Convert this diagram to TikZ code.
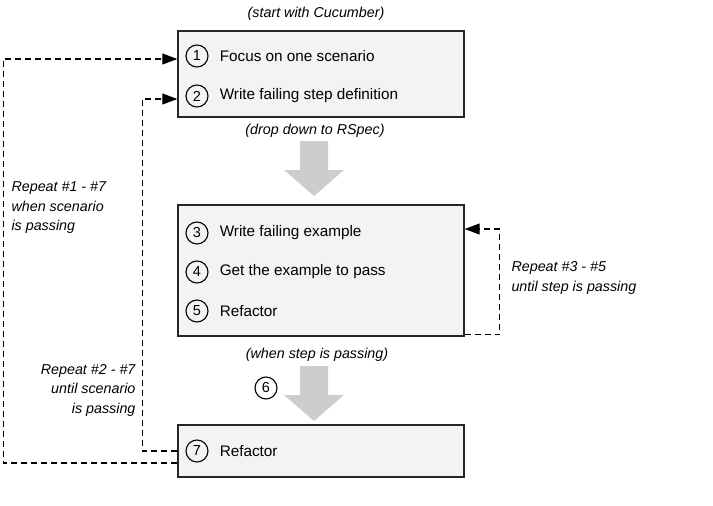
\documentclass[tikz,border=0pt]{standalone}
\usepackage{fontspec}
\setmainfont{Liberation Sans}
\usepackage{xcolor}
\usepackage{tikz}
\usetikzlibrary{arrows.meta,positioning}

\definecolor{boxfill}{HTML}{F3F3F3}
\definecolor{dropgray}{HTML}{CDCDCD}

\begin{document}
\begin{tikzpicture}[
  x=1pt, y=-1pt,
  stage/.style={rectangle, draw=black!85, line width=1.4pt, fill=boxfill, minimum width=286pt},
  num/.style={circle, draw, line width=1.1pt, minimum size=22pt, inner sep=0pt, font=\fontsize{14.5}{16}\selectfont},
  item/.style={inner sep=0pt, anchor=west, font=\fontsize{15.3}{18}\selectfont},
  note/.style={font=\fontsize{14.3}{19.5}\selectfont\itshape},
  loopline/.style={dashed, dash pattern=on 6pt off 4pt, line width=1.1pt, -{Triangle[length=15pt,width=11pt]}},
  drop/.style={fill=dropgray}
]
\useasboundingbox (0,0) rectangle (713,506);

% boxes
\node[stage, minimum height=86pt] (cuke) at (321,74) {};
\node[stage, minimum height=131pt] (rspec) at (321,270.5) {};
\node[stage, minimum height=52pt] (fix) at (321,451) {};

% steps
\node[num] (n1) at (197,56) {1};
\node[item, right=11pt of n1] (t1) {Focus on one scenario};
\node[num] (n2) at (197,96) {2};
\node[item, right=11pt of n2] (t2) {Write failing step definition};
\node[num] (n3) at (197,233) {3};
\node[item, right=11pt of n3] (t3) {Write failing example};
\node[num] (n4) at (197,272) {4};
\node[item, right=11pt of n4] (t4) {Get the example to pass};
\node[num] (n5) at (197,311) {5};
\node[item, right=11pt of n5] (t5) {Refactor};
\node[num] (n6) at (266,388) {6};
\node[num] (n7) at (197,451) {7};
\node[item, right=11pt of n7] (t7) {Refactor};

% captions
\node[note] (startcap) at (316,14) {(start with Cucumber)};
\node[note] (dropcap) at (315,131) {(drop down to RSpec)};
\node[note] (passcap) at (317,355) {(when step is passing)};

% big grey arrows
\foreach \x/\y in {314/141, 314/366}
  \fill[drop] (\x-14,\y) -- (\x+14,\y) -- (\x+14,\y+29) -- (\x+30,\y+29)
    -- (\x,\y+55) -- (\x-30,\y+29) -- (\x-14,\y+29) -- cycle;

% repeat loops
\draw[loopline] ([yshift=-12pt]fix.west) -- ++(-174,0) |- ([yshift=-3pt]n1 -| cuke.west);
\draw[loopline] (n7 -| fix.west) -- ++(-35,0) |- ([yshift=-3pt]n2 -| cuke.west);
\draw[loopline] ([yshift=2pt]rspec.south east) -- ++(35,0) |- ([yshift=4pt]n3 -| rspec.east);

\node[note, align=left, anchor=west] (rep17) at (8,208) {Repeat \#1 - \#7\\when scenario\\is passing};
\node[note, align=right, anchor=east] (rep27) at (139,390) {Repeat \#2 - \#7\\until scenario\\is passing};
\node[note, align=left, anchor=west] (rep35) at (508,278) {Repeat \#3 - \#5\\until step is passing};
\end{tikzpicture}
\end{document}
